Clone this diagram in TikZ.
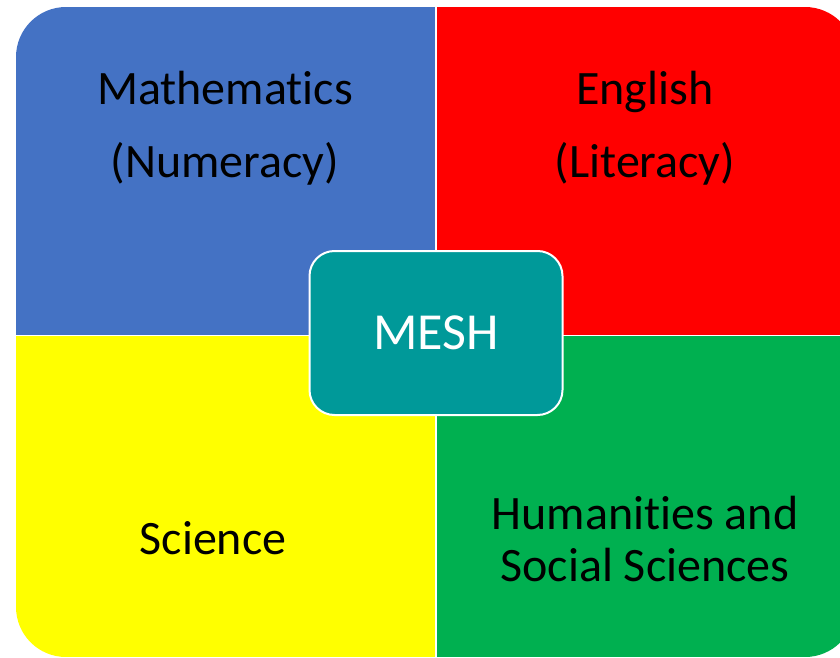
\documentclass[tikz,border=0pt]{standalone}
\usepackage{fontspec}
\setmainfont[Ligatures=NoCommon]{Carlito}

\definecolor{mathblue}{RGB}{68,114,196}
\definecolor{engred}{RGB}{255,0,0}
\definecolor{sciyellow}{RGB}{255,255,0}
\definecolor{humgreen}{RGB}{0,176,80}
\definecolor{meshteal}{RGB}{0,153,153}

\begin{document}
\begin{tikzpicture}[
  x = 1pt, y = -1pt,
  subject/.style = {align = center, text = black,
                    font = \fontsize{48}{73}\selectfont},
  hub/.style = {draw = white, line width = 2pt, fill = meshteal,
                rounded corners = 25pt, minimum width = 253pt,
                minimum height = 164pt, text = white,
                font = \fontsize{52}{60}\selectfont},
  ]
  \useasboundingbox (0,0) rectangle (840,658);
  \begin{scope}
    \clip[rounded corners = 50pt] (16,7) rectangle (855,657);
    \fill[mathblue]  (16,7)    rectangle (434.5,334.5);
    \fill[engred]    (436.5,7) rectangle (855,334.5);
    \fill[sciyellow] (16,336)  rectangle (434.5,657);
    \fill[humgreen]  (436.5,336) rectangle (855,657);
  \end{scope}
  \node[subject] (maths)   at (225,128) {Mathematics\\(Numeracy)};
  \node[subject] (english) at (645,128) {English\\(Literacy)};
  \node[subject] (science) at (213,538) {Science};
  \node[subject, font = \fontsize{48}{52}\selectfont]
        (hass) at (645,539) {Humanities and\\Social Sciences};
  \node[hub] (mesh) at (436,333) {MESH};
\end{tikzpicture}
\end{document}
